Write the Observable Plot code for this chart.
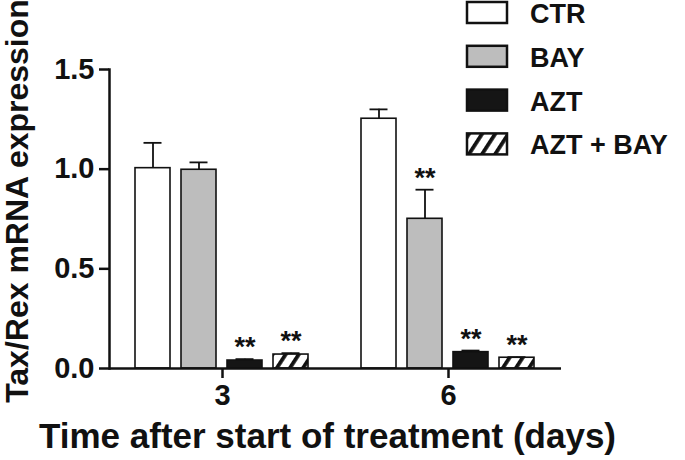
<!DOCTYPE html>
<html>
<head>
<meta charset="utf-8">
<script src="https://cdn.jsdelivr.net/npm/d3@7"></script>
<script src="https://cdn.jsdelivr.net/npm/@observablehq/plot@0.6"></script>
<style>
  html, body { margin: 0; padding: 0; background: #fff; }
  #chart { position: relative; width: 685px; height: 460px; }
</style>
</head>
<body>
<div id="chart"></div>
<script>
// ---- data ----
const days = ["3", "6"];
const treatments = ["CTR", "BAY", "AZT", "AZT + BAY"];
const fills = ["#ffffff", "#bdbdbd", "#151515", "url(#hatch)"];
const day3Means = [1.005, 0.997, 0.040, 0.070];
const day3Upper = [1.132, 1.034, 0.047, 0.077];
const day6Means = [1.253, 0.751, 0.082, 0.054];
const day6Upper = [1.300, 0.897, 0.090, 0.057];
const day3Stars = ["", "", "**", "**"];
const day6Stars = ["", "**", "**", "**"];
const yTicks = [0, 0.5, 1.0, 1.5];
const yLabel = "Tax/Rex mRNA expression";
const xLabel = "Time after start of treatment (days)";

const rows = [];
treatments.forEach((t, i) => {
  rows.push({day: "3", treatment: t, mean: day3Means[i], upper: day3Upper[i], star: day3Stars[i]});
});
treatments.forEach((t, i) => {
  rows.push({day: "6", treatment: t, mean: day6Means[i], upper: day6Upper[i], star: day6Stars[i]});
});

const FONT = "'Liberation Sans', Arial, Helvetica, sans-serif";

const chart = Plot.plot({
  width: 685,
  height: 460,
  marginLeft: 107,
  marginRight: 123,
  marginTop: 69,
  marginBottom: 92,
  style: {fontFamily: FONT, color: "#111", background: "white", overflow: "visible"},
  fx: {domain: days, paddingInner: 0, paddingOuter: 0.005, label: null},
  x: {domain: treatments, paddingInner: 0.234, paddingOuter: 0.537, axis: null},
  y: {domain: [0, 1.5], label: null},
  color: {domain: treatments, range: fills},
  marks: [
    Plot.barY(rows, {fx: "day", x: "treatment", y: "mean", fill: "treatment", stroke: "#111", strokeWidth: 1.6}),
    Plot.ruleX(rows, {fx: "day", x: "treatment", y1: "mean", y2: "upper", stroke: "#111", strokeWidth: 1.8}),
    Plot.tickY(rows, {fx: "day", x: "treatment", y: "upper", insetLeft: 8.5, insetRight: 8.5, stroke: "#111", strokeWidth: 1.8}),
    Plot.text(rows.filter(d => d.star), {fx: "day", x: "treatment", y: "upper", text: "star", lineAnchor: "bottom", dy: -3, fontSize: 27, fontWeight: "bold", fill: "#111"}),
    Plot.ruleY([0], {stroke: "#111", strokeWidth: 2.5}),
    Plot.frame({facet: "super", anchor: "left", stroke: "#111", strokeWidth: 2.5}),
    Plot.axisY({ticks: yTicks, tickFormat: d => d.toFixed(1), tickSize: 10, tickPadding: 5, stroke: "#111", strokeWidth: 2.5, fontSize: 29, fontWeight: "bold", label: null}),
    Plot.axisFx({anchor: "bottom", tickSize: 10, tickPadding: 6, stroke: "#111", strokeWidth: 2.5, fontSize: 29, fontWeight: "bold", label: null}),
    Plot.text([yLabel], {facet: "super", frameAnchor: "left", textAnchor: "middle", lineAnchor: "middle", rotate: -90, dx: -92, dy: -18, fontSize: 32, fontWeight: "bold", fill: "#111"}),
    Plot.text([xLabel], {facet: "super", frameAnchor: "bottom", textAnchor: "middle", lineAnchor: "middle", dx: -8, dy: 68, fontSize: 35, fontWeight: "bold", fill: "#111"})
  ]
});

document.getElementById("chart").appendChild(chart);

// hatch pattern definition
const svg = d3.select(chart);
const defs = svg.insert("defs", ":first-child");
const pat = defs.append("pattern")
  .attr("id", "hatch")
  .attr("patternUnits", "userSpaceOnUse")
  .attr("width", 11).attr("height", 11)
  .attr("patternTransform", "rotate(33)");
pat.append("rect").attr("width", 11).attr("height", 11).attr("fill", "#fff");
pat.append("rect").attr("width", 3.8).attr("height", 11).attr("fill", "#111");

// legend (top right, inside the svg)
const legend = svg.append("g")
  .attr("font-family", FONT)
  .attr("font-weight", "bold")
  .attr("font-size", 27)
  .attr("text-anchor", "start")
  .attr("fill", "#111");
treatments.forEach((t, i) => {
  const g = legend.append("g").attr("transform", `translate(467,${2 + i * 43.8})`);
  g.append("rect").attr("x", 0).attr("y", 0).attr("width", 40).attr("height", 21)
    .attr("fill", fills[i]).attr("stroke", "#111").attr("stroke-width", 2.5);
  g.append("text").attr("x", 63).attr("y", 21).attr("text-anchor", "start").text(t);
});
</script>
</body>
</html>
